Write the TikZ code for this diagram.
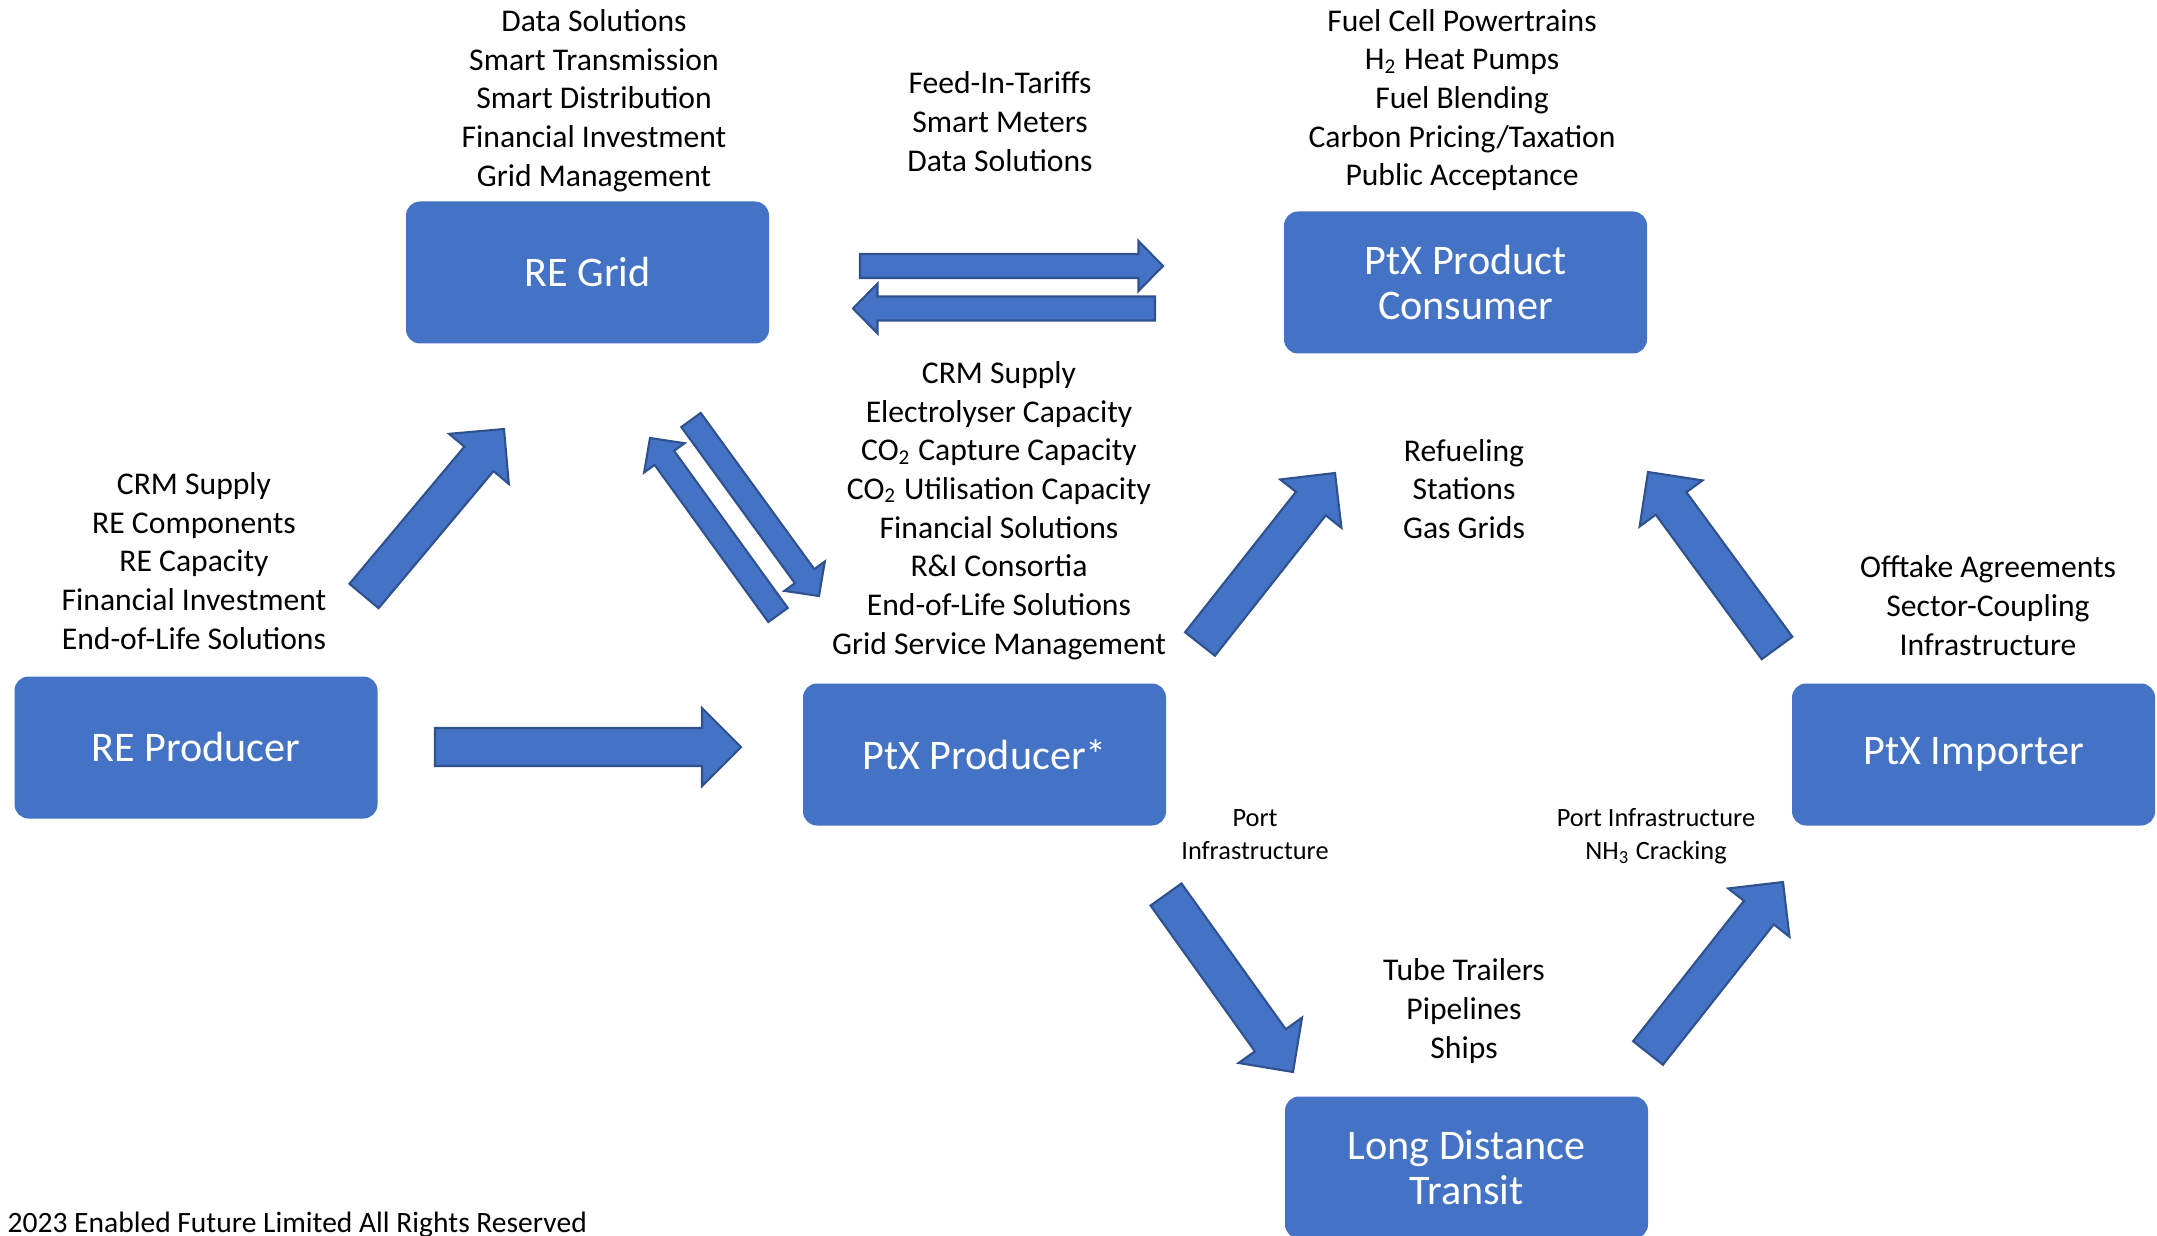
\documentclass[tikz,border=0pt]{standalone}
\usepackage{fontspec}
\setmainfont{Carlito}
\usetikzlibrary{calc}
\definecolor{boxblue}{HTML}{4472C4}
\definecolor{arrowedge}{HTML}{2F528F}
\begin{document}
\begin{tikzpicture}[
  player/.style={fill=boxblue, text=white, rounded corners=0.14cm, minimum width=3.63cm, minimum height=1.42cm, align=center, font=\fontsize{12}{13}\selectfont},
  notes/.style={align=center, font=\fontsize{9}{11}\selectfont},
  smallnotes/.style={align=center, font=\fontsize{7.5}{9.4}\selectfont},
  flow/.style n args={3}{draw=arrowedge, fill=boxblue, line width=0.6pt, line join=miter,
    to path={($(\tikztotarget)!#3!(\tikztostart)$) coordinate (fb)
      ($(\tikztostart)!#1!90:(\tikztotarget)$) -- ($(fb)!#1!-90:(\tikztostart)$) -- ($(fb)!#2!-90:(\tikztostart)$)
      -- (\tikztotarget) -- ($(fb)!#2!90:(\tikztostart)$) -- ($(fb)!#1!90:(\tikztostart)$)
      -- ($(\tikztostart)!#1!-90:(\tikztotarget)$) -- cycle}},
  bigflow/.style={flow={0.19cm}{0.39cm}{0.39cm}},
  thinflow/.style={flow={0.12cm}{0.25cm}{0.245cm}}]
\useasboundingbox (0,0) rectangle (21.57,-12.36);

\node[player] (grid) at (5.875,-2.725) {RE Grid};
\node[player] (cons) at (14.655,-2.825) {PtX Product\\Consumer};
\node[player] (repr) at (1.96,-7.475) {RE Producer};
\node[player] (prod) at (9.845,-7.545) {PtX Producer*};
\node[player] (imp) at (19.735,-7.545) {PtX Importer};
\node[player] (trans) at (14.665,-11.675) {Long Distance\\Transit};

\node[notes] (gridnotes) at (5.94,-1.005) {Data Solutions\\Smart Transmission\\Smart Distribution\\Financial Investment\\Grid Management};
\node[notes] (tariffs) at (10.0,-1.215) {Feed-In-Tariffs\\Smart Meters\\Data Solutions};
\node[notes] (consnotes) at (14.62,-1.0) {Fuel Cell Powertrains\\H\textsubscript{2} Heat Pumps\\Fuel Blending\\Carbon Pricing/Taxation\\Public Acceptance};
\node[notes] (prodnotes) at (9.99,-5.105) {CRM Supply\\Electrolyser Capacity\\CO\textsubscript{2} Capture Capacity\\CO\textsubscript{2} Utilisation Capacity\\Financial Solutions\\R\&I Consortia\\End-of-Life Solutions\\Grid Service Management};
\node[notes] (reprnotes) at (1.94,-5.61) {CRM Supply\\RE Components\\RE Capacity\\Financial Investment\\End-of-Life Solutions};
\node[notes] (refuel) at (14.64,-4.89) {Refueling\\Stations\\Gas Grids};
\node[notes] (offtake) at (19.88,-6.055) {Offtake Agreements\\Sector-Coupling\\Infrastructure};
\node[smallnotes] (port) at (12.55,-8.345) {Port\\Infrastructure};
\node[smallnotes] (cracking) at (16.56,-8.365) {Port Infrastructure\\NH\textsubscript{3} Cracking};
\node[notes] (routes) at (14.64,-10.11) {Tube Trailers\\Pipelines\\Ships};
\node[anchor=west, inner sep=0pt, font=\fontsize{8.4}{10}\selectfont] (rights) at (0.07,-12.25) {2023 Enabled Future Limited All Rights Reserved};

\coordinate (r1) at (3.64,-5.96);   \coordinate (r2) at (5.04,-4.29);
\coordinate (g1) at (6.91,-4.20);   \coordinate (g2) at (8.19,-5.96);
\coordinate (p1) at (7.78,-6.15);   \coordinate (p2) at (6.50,-4.38);
\coordinate (t1) at (8.60,-2.66);   \coordinate (t2) at (11.63,-2.66);
\coordinate (c1) at (11.55,-3.085); \coordinate (c2) at (8.53,-3.085);
\coordinate (h1) at (4.35,-7.47);   \coordinate (h2) at (7.41,-7.47);
\coordinate (u1) at (12.00,-6.44);  \coordinate (u2) at (13.35,-4.73);
\coordinate (i1) at (17.77,-6.48);  \coordinate (i2) at (16.48,-4.72);
\coordinate (s1) at (11.66,-8.945); \coordinate (s2) at (12.93,-10.72);
\coordinate (l1) at (16.48,-10.53); \coordinate (l2) at (17.83,-8.82);

\draw[bigflow] (r1) to (r2);
\draw[thinflow] (g1) to (g2);
\draw[thinflow] (p1) to (p2);
\draw[thinflow] (t1) to (t2);
\draw[thinflow] (c1) to (c2);
\draw[bigflow] (h1) to (h2);
\draw[bigflow] (u1) to (u2);
\draw[bigflow] (i1) to (i2);
\draw[bigflow] (s1) to (s2);
\draw[bigflow] (l1) to (l2);
\end{tikzpicture}
\end{document}
